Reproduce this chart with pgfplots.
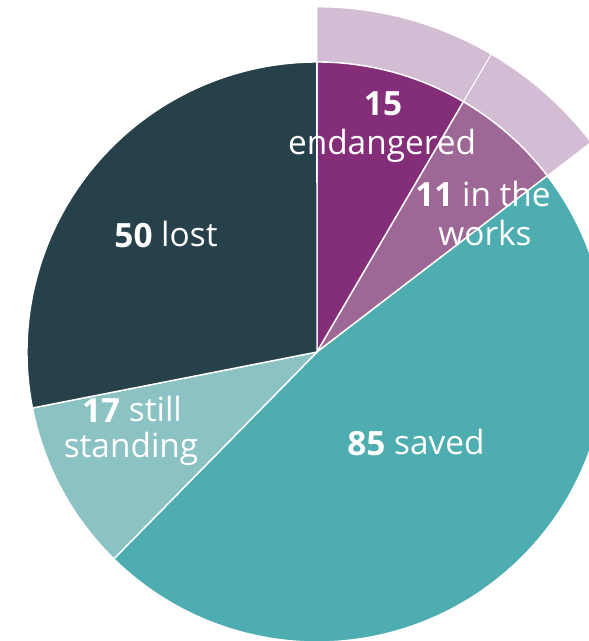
\documentclass[border=0pt]{standalone}
\usepackage{pgfplots}
\usepackage{pgfplotstable}
\pgfplotsset{compat=1.18}
\usepackage{fontspec}
\setmainfont{Open Sans}
\definecolor{cEnd}{HTML}{842E7A}
\definecolor{cWork}{HTML}{9E6896}
\definecolor{cSaved}{HTML}{4DADB1}
\definecolor{cStand}{HTML}{8BC2C3}
\definecolor{cLost}{HTML}{27414A}
\definecolor{cRing}{HTML}{D3BDD4}
\tikzset{lbl/.style={anchor=base,text=white,inner sep=0pt,font=\fontsize{19}{23}\selectfont}}
\pgfplotstableread{
label value
endangered 15
works 11
saved 85
standing 17
lost 50
}\piedata
\pgfplotstablegetelem{0}{value}\of\piedata \let\vA\pgfplotsretval
\pgfplotstablegetelem{1}{value}\of\piedata \let\vB\pgfplotsretval
\pgfplotstablegetelem{2}{value}\of\piedata \let\vC\pgfplotsretval
\pgfplotstablegetelem{3}{value}\of\piedata \let\vD\pgfplotsretval
\pgfplotstablegetelem{4}{value}\of\piedata \let\vE\pgfplotsretval
\pgfmathsetmacro\tot{\vA+\vB+\vC+\vD+\vE}
\pgfmathsetmacro\aA{90}
\pgfmathsetmacro\aB{\aA-360*(\vA/\tot)}
\pgfmathsetmacro\aC{\aB-360*(\vB/\tot)}
\pgfmathsetmacro\aD{\aC-360*(\vC/\tot)}
\pgfmathsetmacro\aE{\aD-360*(\vD/\tot)}
\pgfmathsetmacro\aF{\aE-360*(\vE/\tot)}
\def\R{5.8}
\def\Ro{6.9}
\newcommand\pwedge[3]{%
  \fill[#1,draw=white,line width=0.8pt,line join=round] (axis cs:0,0) -- (axis cs:{\R*cos(#2)},{\R*sin(#2)}) arc[start angle=#2, end angle=#3, radius=\R] -- cycle;}
\newcommand\ringseg[2]{%
  \fill[cRing,draw=white,line width=0.5pt] (axis cs:{\R*cos(#1)},{\R*sin(#1)}) -- (axis cs:{\Ro*cos(#1)},{\Ro*sin(#1)}) arc[start angle=#1, end angle=#2, radius=\Ro] -- (axis cs:{\R*cos(#2)},{\R*sin(#2)}) arc[start angle=#2, end angle=#1, radius=\R] -- cycle;}
\begin{document}
\begin{tikzpicture}
\begin{axis}[x=1cm,y=1cm,xmin=-6.34,xmax=5.44,ymin=-5.78,ymax=7.04,
  hide axis,clip=true,scale only axis]
\ringseg{\aA}{\aB}
\ringseg{\aB}{\aC}
\pwedge{cEnd}{\aA}{\aB}
\pwedge{cWork}{\aB}{\aC}
\pwedge{cSaved}{\aC}{\aD}
\pwedge{cStand}{\aD}{\aE}
\pwedge{cLost}{\aE}{\aF}
\node[lbl] at (axis cs:1.32,4.72) {\textbf{15}};
\node[lbl] at (axis cs:1.30,3.94) {endangered};
\node[lbl] at (axis cs:3.32,2.90) {\textbf{11} in the};
\node[lbl] at (axis cs:3.36,2.14) {works};
\node[lbl] at (axis cs:-3.02,2.10) {\textbf{50} lost};
\node[lbl] at (axis cs:-3.70,-1.40) {\textbf{17} still};
\node[lbl] at (axis cs:-3.72,-2.10) {standing};
\node[lbl] at (axis cs:1.98,-2.06) {\textbf{85} saved};
\end{axis}
\pgfresetboundingbox
\path[use as bounding box] (current axis.south west) rectangle (current axis.north east);
\end{tikzpicture}
\end{document}
